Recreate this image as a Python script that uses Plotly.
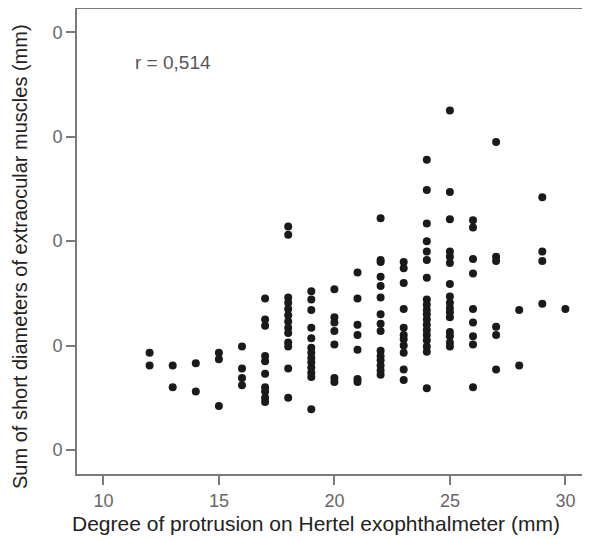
import plotly.graph_objects as go

# Degree of protrusion (mm) per column and the short-diameter sums
x_vals = (
    [12] * 2 + [13] * 2 + [14] * 2 + [15] * 3 + [16] * 4 + [17] * 10 + [18] * 13 +
    [19] * 13 + [20] * 7 + [21] * 7 + [22] * 15 + [23] * 11 + [24] * 19 +
    [25] * 16 + [26] * 9 + [27] * 6 + [28] * 2 + [29] * 4 + [30] * 1
)
y_vals = [
    19.3, 18.1,
    18.1, 16.0,
    18.3, 15.6,
    19.3, 18.7, 14.2,
    19.9, 17.8, 16.9, 16.2,
    24.5, 22.5, 21.9, 19.0, 18.5, 17.3, 16.0, 15.6, 15.0, 14.6,
    31.4, 30.6, 24.6, 24.1, 23.5, 22.9, 22.3, 21.7, 21.2, 20.3, 19.9, 17.8, 15.0,
    25.2, 24.4, 23.4, 21.7, 20.7, 19.8, 19.3, 18.8, 18.4, 17.9, 17.4, 17.0, 13.9,
    25.4, 22.7, 22.2, 21.4, 20.1, 16.9, 16.5,
    27.0, 24.5, 22.0, 21.0, 19.6, 16.8, 16.5,
    32.2, 28.2, 28.0, 26.6, 25.7, 24.6, 23.0, 22.1, 21.4, 19.5, 19.0, 18.6, 18.1, 17.6, 17.2,
    28.0, 27.4, 26.0, 23.5, 21.7, 21.0, 20.6, 20.0, 19.3, 17.7, 16.7,
    37.8, 34.9, 31.7, 30.0, 29.0, 28.2, 26.5, 24.4, 23.9, 23.4, 23.0, 22.5, 22.0, 21.5, 21.0, 20.5, 19.9, 19.4, 15.9,
    42.5, 34.7, 32.1, 29.0, 28.5, 27.9, 25.9, 24.7, 24.1, 23.6, 23.2, 22.7, 21.3, 20.9, 20.3, 19.9,
    32.0, 31.3, 28.3, 26.9, 23.5, 22.2, 20.9, 20.1, 16.0,
    39.5, 28.5, 28.1, 21.8, 21.0, 17.7,
    23.4, 18.1,
    34.2, 29.0, 28.1, 24.0,
    23.5,
]

x_ticks = [10, 15, 20, 25, 30]
y_ticks = [10, 20, 30, 40, 50]
y_tick_text = ["0", "0", "0", "0", "0"]  # left digits are cut off in the source image

r_label = "r = 0,514"
x_title = "Degree of protrusion on Hertel exophthalmeter (mm)"
y_title = "Sum of short diameters of extraocular muscles (mm)"

axis_grey = "#7a7a7a"
tick_grey = "#666666"

# the page body adds an 8 px offset
FW, FH = 582, 532
PL, PR, PT, PB = 69, 582, 1, 466   # plot area in figure pixels
PW, PH = PR - PL, PB - PT


def px(sx):  # screen x -> paper fraction
    return (sx - 8 - PL) / PW


def py(sy):  # screen y -> paper fraction
    return (PB - (sy - 8)) / PH


fig = go.Figure(
    go.Scatter(
        x=x_vals, y=y_vals, mode="markers",
        marker=dict(color="#1a1a1a", size=8, line=dict(width=0)),
        hoverinfo="x+y",
    )
)

fig.update_layout(
    width=FW, height=FH,
    margin=dict(l=PL, r=FW - PR, t=PT, b=FH - PB),
    paper_bgcolor="white", plot_bgcolor="white",
    showlegend=False,
    font=dict(family="Liberation Sans, Arial, sans-serif"),
    xaxis=dict(
        range=[8.857, 31.065], tickvals=x_ticks, ticktext=[str(v) for v in x_ticks],
        showgrid=False, zeroline=False,
        showline=True, linecolor=axis_grey, linewidth=2, mirror=True,
        ticks="outside", ticklen=9, tickwidth=2, tickcolor=axis_grey,
        tickfont=dict(size=18, color=tick_grey),
    ),
    yaxis=dict(
        range=[7.7, 52.23], tickvals=y_ticks, ticktext=y_tick_text,
        showgrid=False, zeroline=False,
        showline=True, linecolor=axis_grey, linewidth=2, mirror=False,
        ticks="outside", ticklen=9, tickwidth=2, tickcolor=axis_grey,
        tickfont=dict(size=18, color=tick_grey),
    ),
    annotations=[
        dict(text=r_label, xref="paper", yref="paper", x=px(133), y=py(62),
             xanchor="left", yanchor="middle", showarrow=False,
             font=dict(size=19, color="#555555")),
        dict(text=x_title, xref="paper", yref="paper", x=px(316), y=py(523),
             xanchor="center", yanchor="middle", showarrow=False,
             font=dict(size=21, color="#222222")),
        dict(text=y_title, xref="paper", yref="paper", x=px(20), y=py(257),
             xanchor="center", yanchor="middle", showarrow=False, textangle=-90,
             font=dict(size=20, color="#222222")),
    ],
)

fig.write_html("out.html")
